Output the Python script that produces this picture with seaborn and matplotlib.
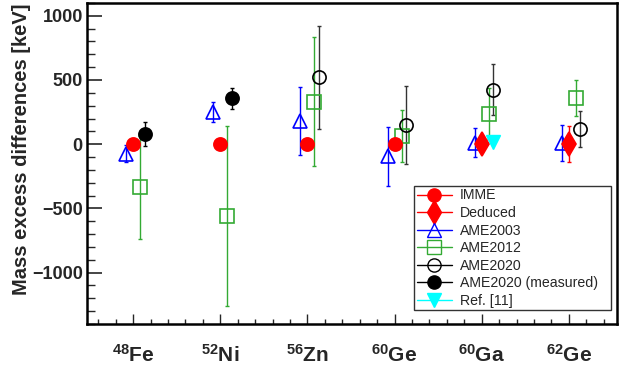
import numpy as np
import matplotlib
matplotlib.use("Agg")
import matplotlib.pyplot as plt
from matplotlib.lines import Line2D
from matplotlib.ticker import MultipleLocator, FixedLocator
import seaborn as sns

# ==========================
# Data (keV)
# ==========================
nuclides = [r"$\mathbf{^{48}}$Fe", r"$\mathbf{^{52}}$Ni", r"$\mathbf{^{56}}$Zn",
            r"$\mathbf{^{60}}$Ge", r"$\mathbf{^{60}}$Ga", r"$\mathbf{^{62}}$Ge"]

imme_idx = [0, 1, 2, 3]
imme_val = [0, 0, 0, 0]

deduced_idx = [4, 5]
deduced_val = [0, 0]
deduced_err = [0, 142]

ame2003_idx = [0, 1, 2, 3, 4, 5]
ame2003_val = [-75, 252, 180, -95, 12, 12]
ame2003_err = [65, 80, 262, 230, 112, 140]

ame2012_idx = [0, 1, 2, 3, 4, 5]
ame2012_val = [-336, -558, 331, 67, 237, 358]
ame2012_err = [400, 700, 500, 202, 200, 142]

ame2020_idx = [2, 3, 4, 5]
ame2020_val = [522, 148, 426, 120]
ame2020_err = [402, 302, 202, 138]

ame2020m_idx = [0, 1]
ame2020m_val = [77, 356]
ame2020m_err = [93, 80]

ref11_idx = [4]
ref11_val = [15]

# ==========================
# Style
# ==========================
sns.set_theme(style="ticks")
plt.rcParams["font.family"] = ["Liberation Sans", "DejaVu Sans"]
plt.rcParams["mathtext.fontset"] = "custom"
plt.rcParams["mathtext.bf"] = "Liberation Sans:bold"
plt.rcParams["mathtext.rm"] = "Liberation Sans"

fig = plt.figure(figsize=(6.23, 3.69), dpi=100)
ax = fig.add_axes([0.1396, 0.122, 0.8504, 0.870])

green = "#33aa33"
ms = 9.5

def plot_series(idx, val, err, off, color, marker, mfc, ecolor=None, size=ms):
    x = np.array(idx) + off
    ax.errorbar(x, val, yerr=err, fmt="none", ecolor=ecolor or color,
                elinewidth=1, capsize=1.5, capthick=1, zorder=2)
    ax.plot(x, val, linestyle="none", marker=marker, markersize=size,
            markerfacecolor=mfc, markeredgecolor=color, markeredgewidth=1.2,
            zorder=3)

plot_series(ame2003_idx, ame2003_val, ame2003_err, -0.08, "blue", "^", "none")
plot_series(ame2012_idx, ame2012_val, ame2012_err, 0.08, green, "s", "none")
plot_series(ame2020_idx, ame2020_val, ame2020_err, 0.13, "black", "o", "none", "#333333")
plot_series(ame2020m_idx, ame2020m_val, ame2020m_err, 0.14, "black", "o", "black")
plot_series(deduced_idx, deduced_val, deduced_err, 0.0, "red", "d", "red", size=12)
plot_series(imme_idx, imme_val, [0] * len(imme_idx), 0.0, "red", "o", "red")
ax.plot(np.array(ref11_idx) + 0.13, ref11_val, linestyle="none", marker="v",
        markersize=ms, color="cyan", zorder=3)

# ==========================
# Axes
# ==========================
ax.set_xlim(-0.53, 5.55)
ax.set_ylim(-1400, 1100)
ax.xaxis.set_major_locator(FixedLocator(range(len(nuclides))))
ax.xaxis.set_minor_locator(MultipleLocator(0.2))
ax.set_xticklabels(nuclides, fontsize=15, fontweight="bold")
ax.yaxis.set_major_locator(MultipleLocator(500))
ax.yaxis.set_minor_locator(MultipleLocator(100))
for lab in ax.get_yticklabels():
    lab.set_fontweight("bold")
    lab.set_fontsize(13)
ax.tick_params(axis="x", which="major", direction="in", length=7, width=1, pad=14)
ax.tick_params(axis="x", which="minor", direction="in", length=3.5, width=1)
ax.tick_params(axis="y", which="major", direction="in", length=11, width=1.2, pad=3)
ax.tick_params(axis="y", which="minor", direction="in", length=6, width=1)
for s in ax.spines.values():
    s.set_linewidth(1.8)
    s.set_color("black")
ax.set_ylabel("Mass excess differences [keV]", fontsize=14.5, fontweight="bold")
ax.yaxis.set_label_coords(-0.105, 0.545)

# ==========================
# Legend
# ==========================
handles = [
    Line2D([], [], color="red", marker="o", markersize=ms, markerfacecolor="red", lw=1),
    Line2D([], [], color="red", marker="d", markersize=12, markerfacecolor="red", lw=1),
    Line2D([], [], color="blue", marker="^", markersize=ms, markerfacecolor="none", lw=1),
    Line2D([], [], color=green, marker="s", markersize=ms, markerfacecolor="none", lw=1),
    Line2D([], [], color="black", marker="o", markersize=ms, markerfacecolor="none", lw=1),
    Line2D([], [], color="black", marker="o", markersize=ms, markerfacecolor="black", lw=1),
    Line2D([], [], color="cyan", marker="v", markersize=ms, markerfacecolor="cyan", lw=1),
]
labels = ["IMME", "Deduced", "AME2003", "AME2012", "AME2020",
          "AME2020 (measured)   ", "Ref. [11]"]
leg = ax.legend(handles, labels, loc="lower right", bbox_to_anchor=(0.99, 0.044),
                borderaxespad=0, fontsize=10.2, frameon=True, fancybox=False,
                handlelength=2.5, labelspacing=0.25, borderpad=0.15,
                handletextpad=0.55)
leg.get_frame().set_edgecolor("black")
leg.get_frame().set_linewidth(1)

fig.savefig("out.png", dpi=100)
